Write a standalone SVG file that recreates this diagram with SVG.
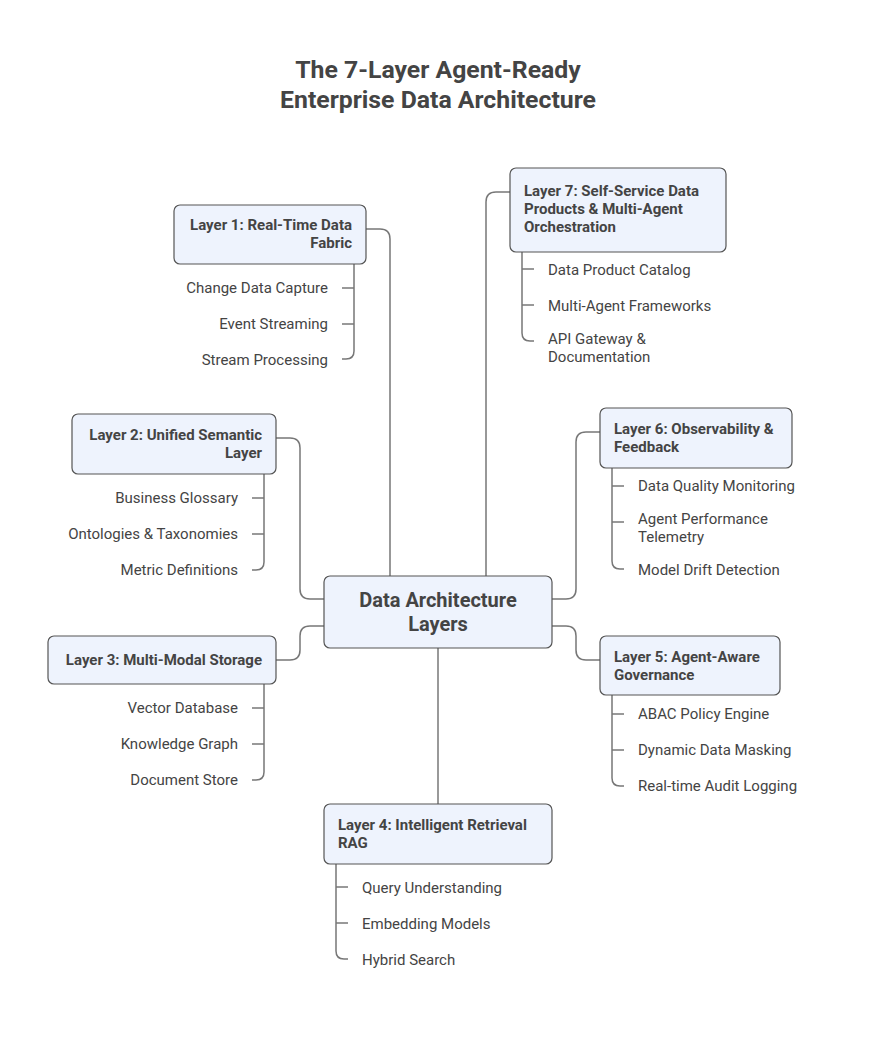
<svg xmlns="http://www.w3.org/2000/svg" width="876" height="1050" viewBox="0 0 876 1050">
<style>
.bg{fill:#ffffff}
.title{font-family:Roboto,"Liberation Sans",sans-serif;font-size:24.8px;font-weight:bold;fill:#444444;text-anchor:middle}
.node rect{fill:#eef3fd;stroke:#555555;stroke-width:1.2}
.nt{font-family:Roboto,"Liberation Sans",sans-serif;font-size:15px;font-weight:bold;fill:#444444;dominant-baseline:central}
.ct{font-family:Roboto,"Liberation Sans",sans-serif;font-size:20px;font-weight:bold;fill:#444444;dominant-baseline:central;text-anchor:middle}
.lt{font-family:Roboto,"Liberation Sans",sans-serif;font-size:15px;fill:#444444;dominant-baseline:central}
.r{text-anchor:end}
.conn path{fill:none;stroke:#777777;stroke-width:1.5}
</style>
<rect class="bg" x="0" y="0" width="876" height="1050"/>
<text class="title" x="438" y="78">The 7-Layer Agent-Ready</text>
<text class="title" x="438" y="108">Enterprise Data Architecture</text>

<g id="connectors" class="conn">
<path d="M366,229 H380 Q390,229 390,239 V576"/>
<path d="M510,192 H496 Q486,192 486,202 V576"/>
<path d="M324,599 H310 Q300,599 300,589 V448 Q300,438 290,438 H276"/>
<path d="M324,626 H310 Q300,626 300,636 V650 Q300,660 290,660 H276"/>
<path d="M438,648 V804"/>
<path d="M552,599 H566 Q576,599 576,589 V442 Q576,432 586,432 H600"/>
<path d="M552,626 H566 Q576,626 576,636 V650 Q576,660 586,660 H600"/>
<path d="M354,264 V351 Q354,359 346,359 H342"/>
<path d="M342,288 H354"/>
<path d="M342,324 H354"/>
<path d="M264,474 V562 Q264,570 256,570 H252"/>
<path d="M252,498 H264"/>
<path d="M252,534 H264"/>
<path d="M264,684 V772 Q264,780 256,780 H252"/>
<path d="M252,708 H264"/>
<path d="M252,744 H264"/>
<path d="M336,864 V951 Q336,959 344,959 H348"/>
<path d="M336,887 H348"/>
<path d="M336,923 H348"/>
<path d="M612,695 V778 Q612,786 620,786 H624"/>
<path d="M612,714 H624"/>
<path d="M612,750 H624"/>
<path d="M612,468 V561 Q612,569 620,569 H624"/>
<path d="M612,486 H624"/>
<path d="M612,522 H624"/>
<path d="M522,252 V333 Q522,341 530,341 H534"/>
<path d="M522,269 H534"/>
<path d="M522,305 H534"/>
</g>

<g id="center" class="node">
<rect x="324" y="576" width="228" height="72" rx="6"/>
<text class="ct" x="438" y="600">Data Architecture</text>
<text class="ct" x="438" y="624">Layers</text>
</g>

<g id="layer1" class="node">
<rect x="174" y="205" width="192" height="59" rx="6"/>
<text class="nt r" x="352" y="225">Layer 1: Real-Time Data</text>
<text class="nt r" x="352" y="243">Fabric</text>
<text class="lt r" x="328" y="288">Change Data Capture</text>
<text class="lt r" x="328" y="324">Event Streaming</text>
<text class="lt r" x="328" y="360">Stream Processing</text>
</g>

<g id="layer2" class="node">
<rect x="72" y="414" width="204" height="60" rx="6"/>
<text class="nt r" x="262" y="435">Layer 2: Unified Semantic</text>
<text class="nt r" x="262" y="453">Layer</text>
<text class="lt r" x="238" y="498">Business Glossary</text>
<text class="lt r" x="238" y="534">Ontologies &amp; Taxonomies</text>
<text class="lt r" x="238" y="570">Metric Definitions</text>
</g>

<g id="layer3" class="node">
<rect x="48" y="636" width="228" height="48" rx="6"/>
<text class="nt r" x="262" y="660">Layer 3: Multi-Modal Storage</text>
<text class="lt r" x="238" y="708">Vector Database</text>
<text class="lt r" x="238" y="744">Knowledge Graph</text>
<text class="lt r" x="238" y="780">Document Store</text>
</g>

<g id="layer4" class="node">
<rect x="324" y="804" width="228" height="60" rx="6"/>
<text class="nt" x="338" y="825">Layer 4: Intelligent Retrieval</text>
<text class="nt" x="338" y="843">RAG</text>
<text class="lt" x="362" y="888">Query Understanding</text>
<text class="lt" x="362" y="924">Embedding Models</text>
<text class="lt" x="362" y="960">Hybrid Search</text>
</g>

<g id="layer5" class="node">
<rect x="600" y="636" width="180" height="59" rx="6"/>
<text class="nt" x="614" y="657">Layer 5: Agent-Aware</text>
<text class="nt" x="614" y="675">Governance</text>
<text class="lt" x="638" y="714">ABAC Policy Engine</text>
<text class="lt" x="638" y="750">Dynamic Data Masking</text>
<text class="lt" x="638" y="786">Real-time Audit Logging</text>
</g>

<g id="layer6" class="node">
<rect x="600" y="408" width="192" height="60" rx="6"/>
<text class="nt" x="614" y="429">Layer 6: Observability &amp;</text>
<text class="nt" x="614" y="447">Feedback</text>
<text class="lt" x="638" y="486">Data Quality Monitoring</text>
<text class="lt" x="638" y="519">Agent Performance</text>
<text class="lt" x="638" y="537">Telemetry</text>
<text class="lt" x="638" y="570">Model Drift Detection</text>
</g>

<g id="layer7" class="node">
<rect x="510" y="168" width="216" height="84" rx="6"/>
<text class="nt" x="524" y="191">Layer 7: Self-Service Data</text>
<text class="nt" x="524" y="209">Products &amp; Multi-Agent</text>
<text class="nt" x="524" y="227">Orchestration</text>
<text class="lt" x="548" y="270">Data Product Catalog</text>
<text class="lt" x="548" y="306">Multi-Agent Frameworks</text>
<text class="lt" x="548" y="339">API Gateway &amp;</text>
<text class="lt" x="548" y="357">Documentation</text>
</g>
</svg>
